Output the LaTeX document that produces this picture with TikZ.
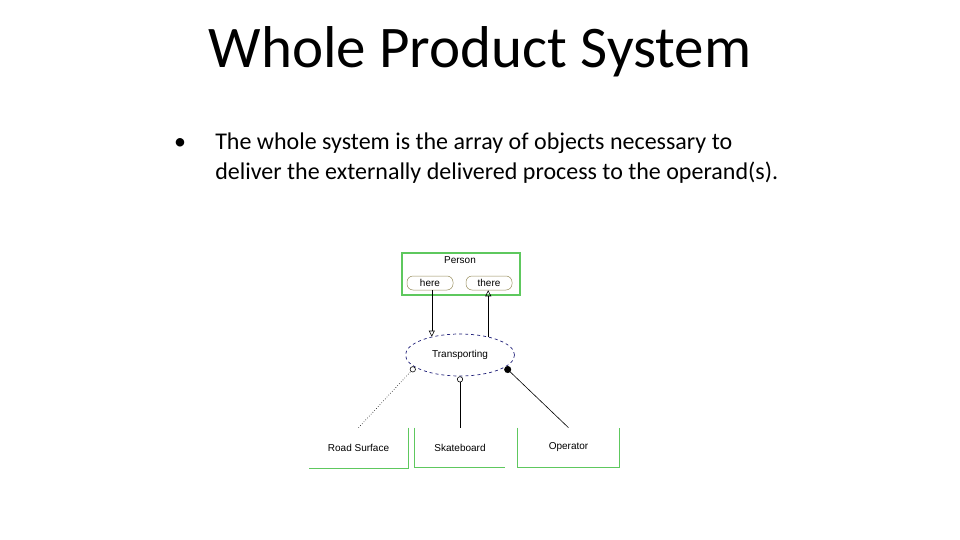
\documentclass[tikz,border=0pt]{standalone}
\usepackage{fontspec}
\setmainfont{Carlito}
\newfontfamily\diagfont{Liberation Sans}
\usetikzlibrary{positioning,arrows.meta,shapes.geometric}
\definecolor{boxgreen}{RGB}{94,200,94}
\definecolor{procblue}{RGB}{30,30,120}
\definecolor{stateline}{RGB}{150,140,90}
\begin{document}
\begin{tikzpicture}[x=1pt, y=-1pt, >=stealth, line width=0.6pt]
\tikzstyle{object}=[draw=boxgreen, line width=1.2pt, rectangle, minimum width=118pt, minimum height=42pt, inner sep=0pt]
\tikzstyle{objlabel}=[rectangle, inner sep=0pt, font=\diagfont\fontsize{10}{11}\selectfont]
\tikzstyle{state}=[draw=stateline, rounded corners=6pt, line width=0.5pt, minimum width=46pt, minimum height=14pt, inner sep=0pt, font=\diagfont\fontsize{10}{11}\selectfont]
\tikzstyle{process}=[draw=procblue, dashed, ellipse, line width=0.7pt, minimum width=109pt, minimum height=42pt, inner sep=0pt, font=\diagfont\fontsize{10}{11}\selectfont]
\tikzstyle{objedge}=[boxgreen, line width=1.4pt]
\useasboundingbox (0,0) rectangle (960,540);
\node[anchor=base, font=\fontsize{59}{61}\selectfont] (title) at (480,68) {Whole Product System};
\node[anchor=base, font=\fontsize{24}{29}\selectfont] (bullet) at (180,150) {\textbullet};
\node[anchor=base west, align=left, inner sep=0pt, font=\fontsize{24}{29}\selectfont] (body) at (215,179) {The whole system is the array of objects necessary to\\deliver the externally delivered process to the operand(s).};
\node[object] (person) at (461,274) {};
\node[objlabel, anchor=base] (personlbl) at (460,263) {Person};
\node[state] (here) at (430,283) {here};
\node[state] (there) at (489,283) {there};
\node[process] (transport) at (460,355) {Transporting};
\node[objlabel, minimum width=99pt, minimum height=40pt] (road) at (358.5,448) {Road Surface};
\node[objlabel, minimum width=90pt, minimum height=39pt] (skate) at (460,447.5) {Skateboard};
\node[objlabel, minimum width=101pt, minimum height=39pt] (operator) at (568.5,447.5) {Operator};
\draw[objedge] (road.north east) -- (road.south east) -- (road.south west);
\draw[objedge] (skate.north west) -- (skate.south west) -- (skate.south east);
\draw[objedge] (operator.north west) -- (operator.south west) -- (operator.south east) -- (operator.north east);
\draw[-{Triangle[open, length=6pt, width=6pt]}] (here.south -| transport.147) -- (transport.147);
\draw[-{Triangle[open, length=6pt, width=6pt]}] (transport.33) -- (transport.33 |- there.south);
\draw[dotted, -{Circle[open, length=6pt]}] (road.north) -- (transport.195);
\draw[-{Circle[open, length=6pt]}] (skate.north) -- (transport.south);
\draw[-{Circle[length=7pt]}] (operator.north) -- (transport.345);
\end{tikzpicture}
\end{document}
